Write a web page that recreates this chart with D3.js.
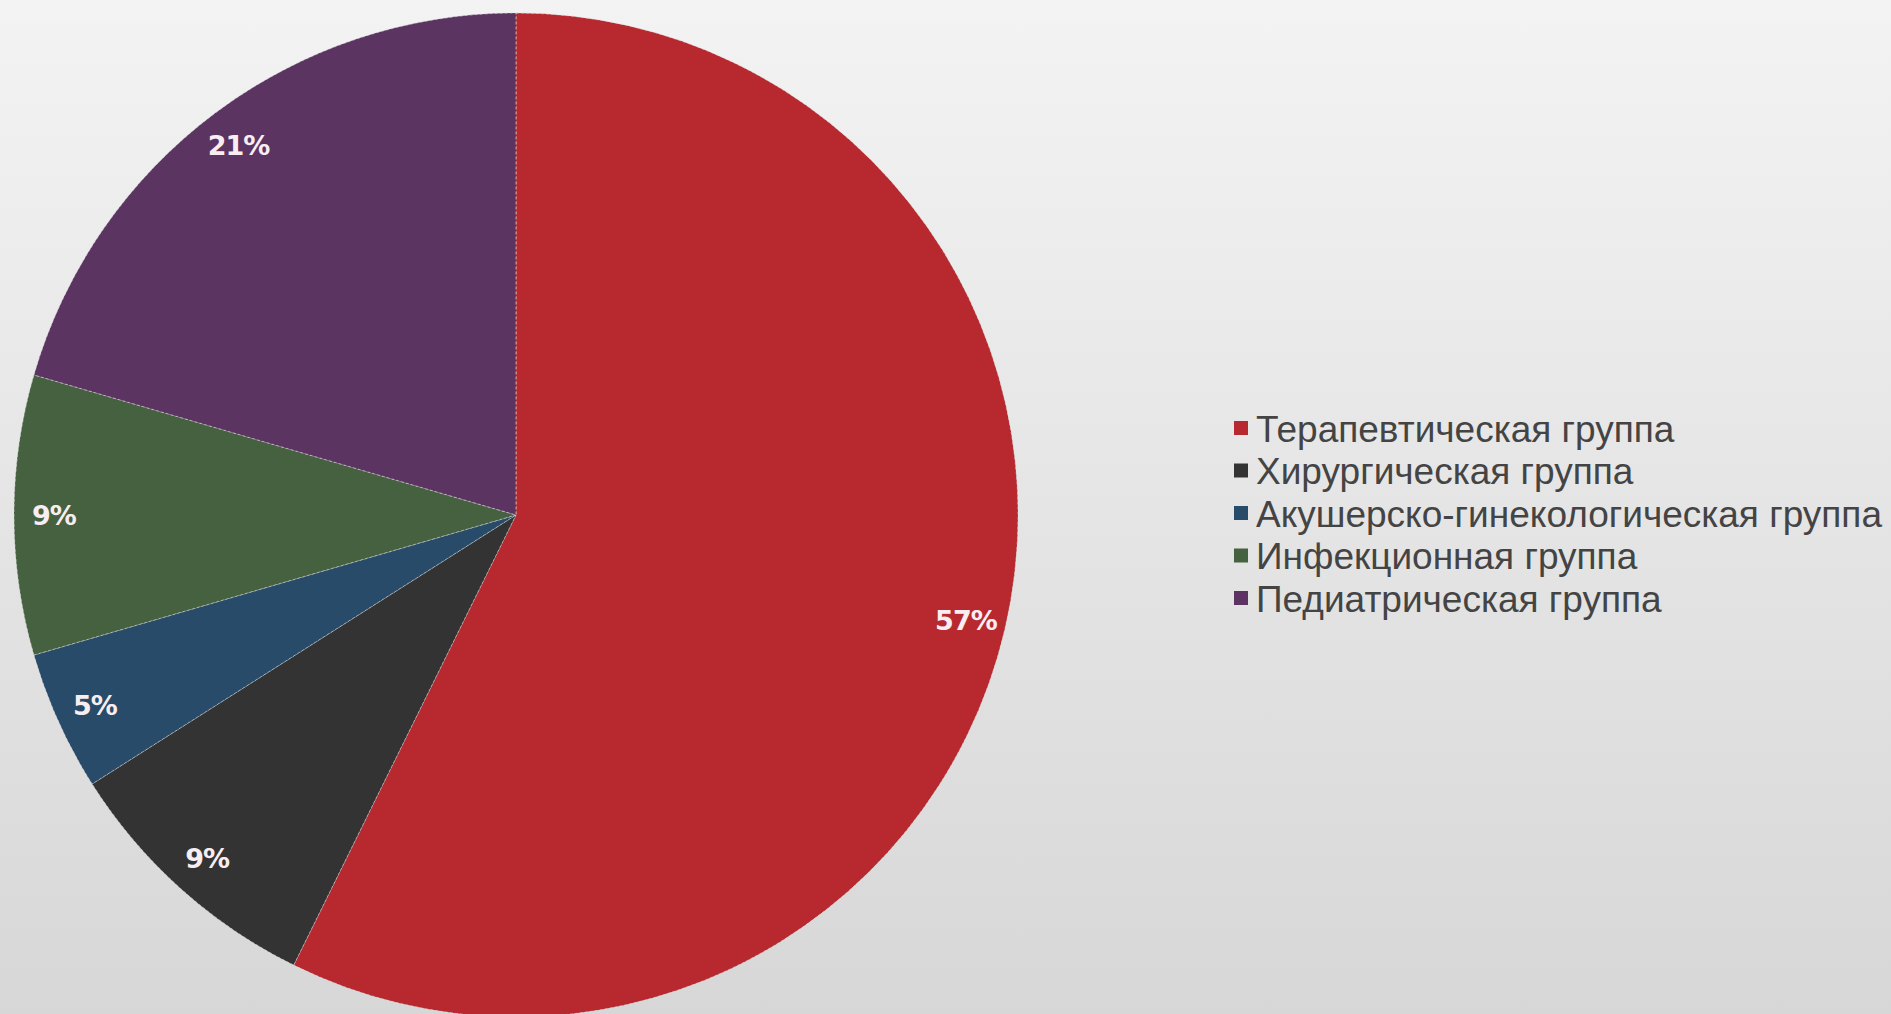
<!DOCTYPE html>
<html><head><meta charset="utf-8">
<script src="https://cdn.jsdelivr.net/npm/d3@7"></script>
<style>html,body{margin:0;padding:0;overflow:hidden;}</style>
</head><body>
<script>
const categories = ["Терапевтическая группа","Хирургическая группа","Акушерско-гинекологическая группа","Инфекционная группа","Педиатрическая группа"];
const values = [57.3, 8.7, 4.5, 9.0, 20.5];
const valueLabels = ["57%","9%","5%","9%","21%"];
const colors = ["#B7292F","#333333","#284B6A","#46613F","#5B3462"];

const W = 1891, H = 1014;
const svg = d3.select("body").append("svg").attr("width", W).attr("height", H);
const defs = svg.append("defs");
const grad = defs.append("linearGradient").attr("id","bg").attr("x1",0).attr("y1",0).attr("x2",0).attr("y2",1);
grad.append("stop").attr("offset","0%").attr("stop-color","#F3F3F3");
grad.append("stop").attr("offset","100%").attr("stop-color","#D7D7D7");
svg.append("rect").attr("width",W).attr("height",H).attr("fill","url(#bg)");

const cx = 516, cy = 515, R = 502;
const data = categories.map((c,i)=>({name:c, value:values[i], label:valueLabels[i], color:colors[i]}));
const pie = d3.pie().value(d=>d.value).sort(null);
const arcs = pie(data);
const arc = d3.arc().innerRadius(0).outerRadius(R);
const g = svg.append("g").attr("transform",`translate(${cx},${cy})`);
g.selectAll("path.slice").data(arcs).join("path").attr("class","slice")
  .attr("d",arc).attr("fill",d=>d.data.color)
  .attr("stroke","#d8d8d8").attr("stroke-width",1).attr("stroke-dasharray","3,2").attr("stroke-opacity",0.6);

const labelArc = d3.arc().innerRadius(462).outerRadius(462);
g.selectAll("text.lbl").data(arcs).join("text").attr("class","lbl")
  .attr("transform",d=>`translate(${labelArc.centroid(d)})`)
  .attr("text-anchor","middle").attr("dominant-baseline","central")
  .attr("font-family","'DejaVu Sans', sans-serif").attr("font-weight","bold")
  .attr("font-size",27).attr("letter-spacing",-1).attr("fill","#F8EEF2").text(d=>d.data.label);

const legend = svg.append("g").attr("transform","translate(1234,428)");
const rowH = 42.5;
const items = legend.selectAll("g.item").data(data).join("g").attr("class","item")
  .attr("transform",(d,i)=>`translate(0,${i*rowH})`);
items.append("rect").attr("x",0).attr("y",-7).attr("width",14).attr("height",14).attr("fill",d=>d.color);
items.append("text").attr("x",22).attr("y",1).attr("dominant-baseline","central")
  .attr("font-family","'Liberation Sans', Arial, sans-serif").attr("font-size",37)
  .attr("fill","#444444").text(d=>d.name);
</script>
</body></html>
